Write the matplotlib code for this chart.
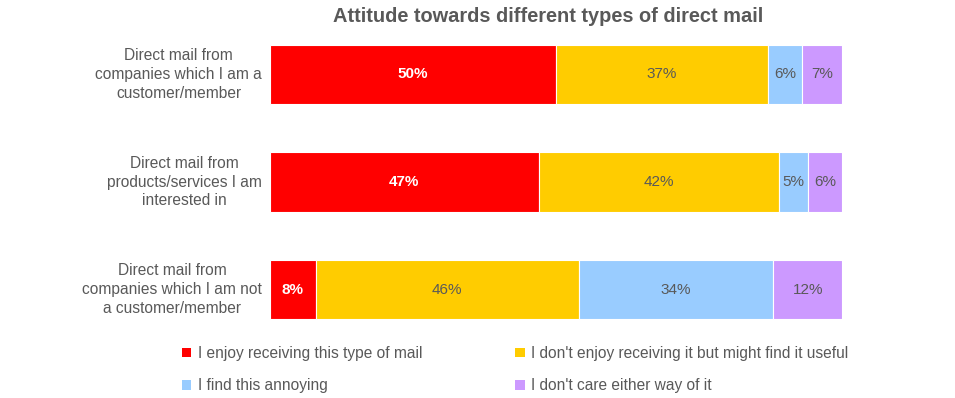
import numpy as np
import matplotlib.pyplot as plt
from matplotlib.patches import Patch

plt.rcParams['font.family'] = ['Liberation Sans', 'DejaVu Sans']

# data
categories = [
    "Direct mail from\ncompanies which I am a\ncustomer/member",
    "Direct mail from\nproducts/services I am\ninterested in",
    "Direct mail from\ncompanies which I am not\na customer/member",
]
series_names = [
    "I enjoy receiving this type of mail",
    "I don't enjoy receiving it but might find it useful",
    "I find this annoying",
    "I don't care either way of it",
]
enjoy = [50, 47, 8]
useful = [37, 42, 46]
annoying = [6, 5, 34]
dont_care = [7, 6, 12]

colors = ["#FF0000", "#FFCC00", "#99CCFF", "#CC99FF"]
text_grey = "#595959"

fig = plt.figure(figsize=(9.55, 3.98), dpi=100)
ax = fig.add_axes([270 / 955, 1 - 343.25 / 398, 572 / 955, 322.5 / 398])

y = np.arange(len(categories))
left = np.zeros(len(categories))
for i, (vals, col) in enumerate(zip([enjoy, useful, annoying, dont_care], colors)):
    vals = np.array(vals, dtype=float)
    ax.barh(y, vals, left=left, height=0.55, color=col,
            edgecolor="white", linewidth=0.8)
    for yy, l, v in zip(y, left, vals):
        if i == 0:
            ax.text(l + v / 2, yy, f"{int(v)}%", ha="center", va="center",
                    color="white", fontsize=11, fontweight="bold")
        else:
            ax.text(l + v / 2, yy, f"{int(v)}%", ha="center", va="center",
                    color=text_grey, fontsize=11)
    left += vals

ax.set_xlim(0, 100)
ax.set_ylim(2.5, -0.5)
ax.axis("off")

# category labels
for yy, cat in zip(y, categories):
    ax.text(-8 / 572, yy, cat, transform=ax.get_yaxis_transform(),
            ha="right", va="center", fontsize=11.2, color=text_grey,
            multialignment="center", linespacing=1.32)

fig.text(548 / 955, 1 - 16 / 398, "Attitude towards different types of direct mail",
         ha="center", va="center", fontsize=14.4, fontweight="bold", color=text_grey)

order = [0, 2, 1, 3]
handles = [Patch(facecolor=colors[k], edgecolor="none") for k in order]
labels = [series_names[k] for k in order]
fig.legend(handles, labels, ncol=2, loc="upper left",
           bbox_to_anchor=(168 / 955, 1 - 332 / 398), frameon=False,
           fontsize=11.2, labelcolor=text_grey, handlelength=0.6, handleheight=0.6,
           handletextpad=0.4, columnspacing=6.0, labelspacing=1.12)

fig.savefig("out.png", dpi=100, facecolor="white")
